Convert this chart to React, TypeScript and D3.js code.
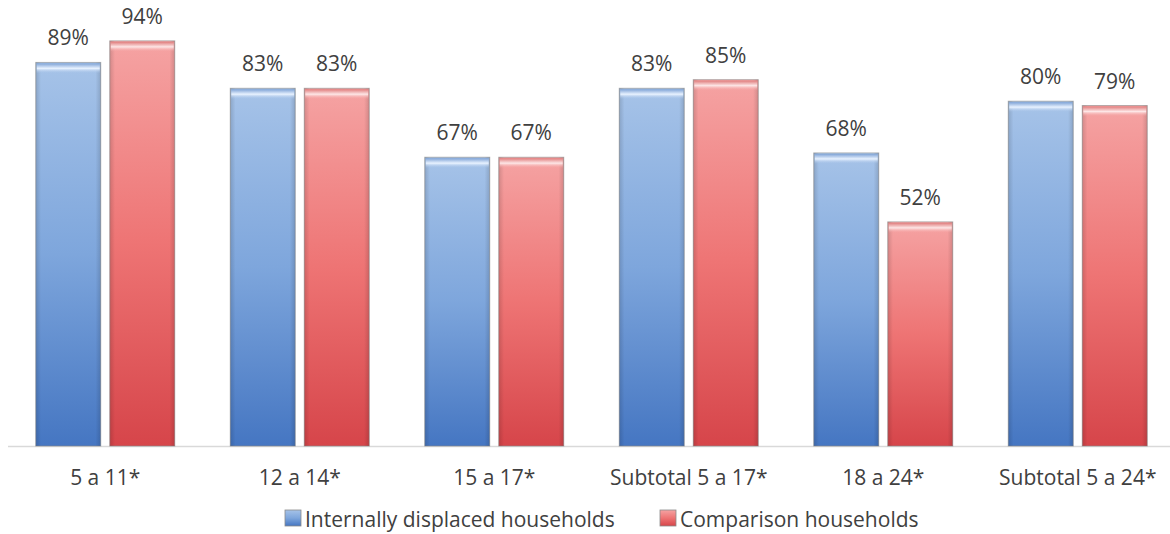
import React from "react";
import * as d3 from "d3";

const categories = ["5 a 11*", "12 a 14*", "15 a 17*", "Subtotal 5 a 17*", "18 a 24*", "Subtotal 5 a 24*"];
const displaced = [89, 83, 67, 83, 68, 80];
const comparison = [94, 83, 67, 85, 52, 79];
const seriesNames = ["Internally displaced households", "Comparison households"];

const W = 1170, H = 534;
const font = "'Open Sans', 'Noto Sans', sans-serif";

export default function App() {
  const x = d3.scaleBand<string>().domain(categories).range([8, 1175]).paddingInner(0).paddingOuter(0);
  const y = d3.scaleLinear().domain([0, 100]).range([446, 15]);
  const barW = 65, gap = 9;
  const series = [
    { name: seriesNames[0], values: displaced, grad: "gBlue", hi: "hBlue", off: -(gap / 2 + barW) },
    { name: seriesNames[1], values: comparison, grad: "gRed", hi: "hRed", off: gap / 2 },
  ];
  return (
    <svg width={W} height={H} style={{ position: "absolute", left: 0, top: 0 }}>
      <defs>
        <linearGradient id="gBlue" x1="0" y1="0" x2="0" y2="1">
          <stop offset="0" stopColor="#a6c3e8" />
          <stop offset="0.5" stopColor="#7ea6dc" />
          <stop offset="1" stopColor="#4576c2" />
        </linearGradient>
        <linearGradient id="gRed" x1="0" y1="0" x2="0" y2="1">
          <stop offset="0" stopColor="#f5a3a3" />
          <stop offset="0.5" stopColor="#ee7474" />
          <stop offset="1" stopColor="#d6454a" />
        </linearGradient>
        <linearGradient id="hBlue" x1="0" y1="0" x2="0" y2="1">
          <stop offset="0" stopColor="#7fa3d6" />
          <stop offset="0.5" stopColor="#e8f2ff" />
          <stop offset="1" stopColor="#a3c0e6" stopOpacity="0" />
        </linearGradient>
        <linearGradient id="hRed" x1="0" y1="0" x2="0" y2="1">
          <stop offset="0" stopColor="#e07d7d" />
          <stop offset="0.5" stopColor="#fde6e6" />
          <stop offset="1" stopColor="#f4a0a0" stopOpacity="0" />
        </linearGradient>
        <linearGradient id="sideShade" x1="0" y1="0" x2="1" y2="0">
          <stop offset="0" stopColor="#000" stopOpacity="0.14" />
          <stop offset="0.08" stopColor="#000" stopOpacity="0" />
          <stop offset="0.92" stopColor="#000" stopOpacity="0" />
          <stop offset="1" stopColor="#000" stopOpacity="0.14" />
        </linearGradient>
      </defs>
      <rect width={W} height={H} fill="#fff" />
      <line x1={8} x2={1170} y1={446.5} y2={446.5} stroke="#d9d9d9" strokeWidth={1.5} />
      {categories.map((c, i) => {
        const cx = x(c)! + x.bandwidth() / 2;
        return (
          <g key={c}>
            {series.map((s) => {
              const v = s.values[i];
              const bx = cx + s.off;
              const by = y(v);
              const bh = y(0) - by;
              return (
                <g key={s.name}>
                  <rect x={bx} y={by} width={barW} height={bh} fill={`url(#${s.grad})`} stroke="#8a8a8a" strokeOpacity={0.6} strokeWidth={1} />
                  <rect x={bx} y={by} width={barW} height={bh} fill="url(#sideShade)" />
                  <rect x={bx + 1} y={by + 1} width={barW - 2} height={10} fill={`url(#${s.hi})`} />
                  <text x={bx + barW / 2} y={by - 17} textAnchor="middle" fontFamily={font} fontSize={21} fill="#404040">{v}%</text>
                </g>
              );
            })}
            <text x={cx} y={485} textAnchor="middle" fontFamily={font} fontSize={21} fill="#404040">{c}</text>
          </g>
        );
      })}
      <g fontFamily={font} fontSize={21} fill="#404040">
        <rect x={285} y={510} width={16} height={16} fill="url(#gBlue)" stroke="#8a8a8a" strokeWidth={0.8} />
        <text x={305} y={527}>{seriesNames[0]}</text>
        <rect x={660} y={510} width={16} height={16} fill="url(#gRed)" stroke="#8a8a8a" strokeWidth={0.8} />
        <text x={680} y={527}>{seriesNames[1]}</text>
      </g>
    </svg>
  );
}
